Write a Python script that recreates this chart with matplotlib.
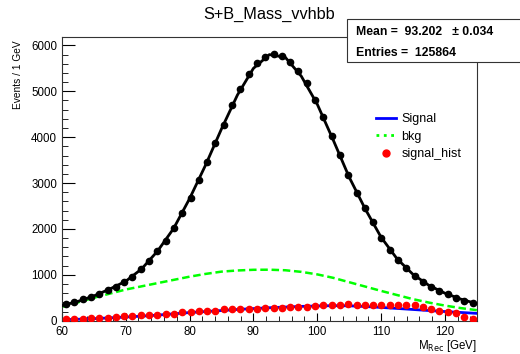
import matplotlib
matplotlib.use("Agg")
import matplotlib.pyplot as plt
import numpy as np
from matplotlib.lines import Line2D
from matplotlib.ticker import MultipleLocator

plt.rcParams['font.family'] = ['Liberation Sans', 'DejaVu Sans']

# bin centres (1.3 GeV bins from 60 to 125)
bin_centers = [60.65, 61.95, 63.25, 64.55, 65.85, 67.15, 68.45, 69.75, 71.05, 72.35,
               73.65, 74.95, 76.25, 77.55, 78.85, 80.15, 81.45, 82.75, 84.05, 85.35,
               86.65, 87.95, 89.25, 90.55, 91.85, 93.15, 94.45, 95.75, 97.05, 98.35,
               99.65, 100.95, 102.25, 103.55, 104.85, 106.15, 107.45, 108.75, 110.05, 111.35,
               112.65, 113.95, 115.25, 116.55, 117.85, 119.15, 120.45, 121.75, 123.05, 124.35]

# S+B data histogram
sb_hist = [364, 414, 473, 523, 582, 669, 741, 836, 959, 1120,
           1300, 1510, 1743, 2013, 2340, 2680, 3065, 3464, 3870, 4264,
           4700, 5041, 5368, 5608, 5752, 5810, 5773, 5643, 5447, 5172,
           4808, 4431, 4024, 3620, 3174, 2789, 2449, 2144, 1808, 1540,
           1322, 1142, 980, 850, 741, 654, 575, 501, 436, 379]

# signal histogram
signal_hist = [37, 44, 37, 59, 59, 59, 80, 95, 102, 117,
               124, 131, 146, 153, 182, 189, 211, 211, 211, 250,
               255, 255, 255, 258, 284, 284, 284, 290, 290, 305,
               320, 342, 342, 345, 357, 340, 338, 340, 342, 338,
               342, 342, 338, 291, 247, 211, 196, 175, 87, 30]

# curves, read every 2.5 GeV
curve_x = [60, 62.5, 65, 67.5, 70, 72.5, 75, 77.5, 80, 82.5, 85, 87.5, 90, 92.5,
           95, 97.5, 100, 102.5, 105, 107.5, 110, 112.5, 115, 117.5, 120, 122.5, 125]
total_fit = [330, 420, 540, 690, 860, 1130, 1520, 2010, 2660, 3390, 4180, 4920, 5500, 5800,
             5740, 5330, 4720, 3940, 3130, 2440, 1820, 1350, 1010, 770, 600, 470, 370]
signal_pdf = [22, 32, 45, 62, 80, 100, 122, 150, 178, 200, 222, 245, 265, 283,
              298, 312, 322, 328, 325, 310, 290, 268, 245, 222, 200, 180, 160]
bkg_pdf = [300, 400, 500, 590, 680, 750, 820, 890, 960, 1020, 1070, 1095, 1110, 1112,
           1100, 1065, 1010, 935, 840, 745, 650, 560, 470, 395, 330, 275, 230]

fig = plt.figure(figsize=(5.2, 3.54), dpi=100)
ax = fig.add_axes([0.119, 0.094, 0.798, 0.801])

ax.plot(curve_x, bkg_pdf, color='#00ff00', lw=1.8, ls=(0, (3, 1.5)), zorder=2)
ax.plot(curve_x, signal_pdf, color='#0000ff', lw=2.0, zorder=2)
ax.plot(curve_x, total_fit, color='black', lw=2.0, zorder=3)
ax.plot(bin_centers, sb_hist, 'o', color='black', ms=4.5, zorder=4)
ax.plot(bin_centers, signal_hist, 'o', color='red', ms=4.5, zorder=4)

ax.set_xlim(60, 125)
ax.set_ylim(0, 6180)
ax.xaxis.set_major_locator(MultipleLocator(10))
ax.xaxis.set_minor_locator(MultipleLocator(2))
ax.yaxis.set_major_locator(MultipleLocator(1000))
ax.yaxis.set_minor_locator(MultipleLocator(200))
ax.tick_params(axis='both', which='both', direction='in', labelsize=8.3, top=False, right=False)
ax.tick_params(axis='y', which='major', length=9, pad=3.5)
ax.tick_params(axis='y', which='minor', length=4.5)
ax.tick_params(axis='x', which='major', length=6, pad=3.5)
ax.tick_params(axis='x', which='minor', length=3.5)
for s in ax.spines.values():
    s.set_color('#333333')
    s.set_linewidth(0.8)

fig.text(0.518, 0.958, 'S+B_Mass_vvhbb', ha='center', va='center', fontsize=11.7)
fig.text(0.035, 0.887, 'Events / 1 GeV', rotation=90, ha='center', va='top', fontsize=7.3)
fig.text(0.916, 0.024, r'M$_{\mathrm{Rec}}$ [GeV]', ha='right', va='center', fontsize=8.3)

# stats box
box = plt.Rectangle((0.667, 0.824), 0.34, 0.122, transform=fig.transFigure,
                    facecolor='white', edgecolor='#333333', lw=0.8, zorder=10)
fig.add_artist(box)
fig.text(0.685, 0.909, 'Mean =  93.202   \u00b1 0.034', fontsize=8.8, fontweight='bold',
         va='center', zorder=11)
fig.text(0.685, 0.850, 'Entries =  125864', fontsize=8.8, fontweight='bold',
         va='center', zorder=11)

handles = [Line2D([], [], color='#0000ff', lw=2),
           Line2D([], [], color='#00ff00', lw=2, ls=':'),
           Line2D([], [], color='red', marker='o', ls='none', ms=5)]
ax.legend(handles, ['Signal', 'bkg', 'signal_hist'], loc='upper left',
          bbox_to_anchor=(0.743, 0.754), frameon=False, fontsize=9,
          handlelength=1.55, handletextpad=0.45, labelspacing=0.45, borderpad=0)

fig.savefig('out.png', dpi=100)
